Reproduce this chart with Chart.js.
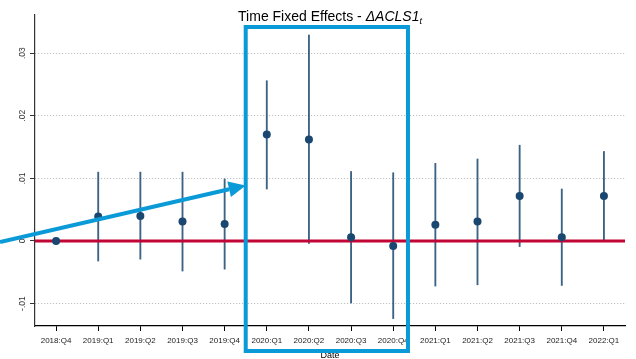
<!DOCTYPE html>
<html>
<head>
<meta charset="utf-8">
<script src="https://cdn.jsdelivr.net/npm/chart.js@4.4.1/dist/chart.umd.min.js"></script>
<style>
  html, body { margin: 0; padding: 0; background: #fff; }
  #wrap { width: 636px; height: 359px; position: relative; }
</style>
</head>
<body>
<div id="wrap"><canvas id="chart"></canvas></div>
<script>
const quarters = ['2018:Q4', '2019:Q1', '2019:Q2', '2019:Q3', '2019:Q4', '2020:Q1', '2020:Q2',
    '2020:Q3', '2020:Q4', '2021:Q1', '2021:Q2', '2021:Q3', '2021:Q4', '2022:Q1'];
const estimates = [0, 0.0039, 0.0040, 0.0031, 0.0027, 0.0170, 0.0162, 0.0006, -0.0008, 0.0026, 0.0031, 0.0072, 0.0006, 0.0072];
const ciLow = [null, -0.0032, -0.0029, -0.0048, -0.0045, 0.0083, -0.0004, -0.0099, -0.0124, -0.0072, -0.0070, -0.0009, -0.0071, 0.0000];
const ciHigh = [null, 0.0110, 0.0110, 0.0110, 0.0099, 0.0256, 0.0329, 0.0111, 0.0109, 0.0124, 0.0131, 0.0153, 0.0083, 0.0143];
const yTicks = [-0.01, 0, 0.01, 0.02, 0.03];
const yTickLabels = ['-.01', '0', '.01', '.02', '.03'];

const navy = '#1a476f';
const red = '#c10534';
const blue = '#0a9ad7';
const font = 'Arial, "Liberation Sans", sans-serif';

const overlay = {
    id: 'overlay',
    afterDatasetDraw(chart, args) {
        // zero line sits above the error bars but under the points
        if (args.index !== 1) return;
        const { ctx, chartArea, scales: { y } } = chart;
        const p = y.getPixelForValue(0);
        ctx.save();
        ctx.strokeStyle = red;
        ctx.lineWidth = 3;
        ctx.beginPath();
        ctx.moveTo(chartArea.left, p);
        ctx.lineTo(chartArea.right, p);
        ctx.stroke();
        ctx.restore();
    },
    afterDraw(chart) {
        const { ctx, chartArea, scales: { x, y } } = chart;
        ctx.save();

        // rotated y tick labels
        ctx.fillStyle = '#333';
        ctx.font = '8.5px ' + font;
        ctx.textAlign = 'center';
        ctx.textBaseline = 'middle';
        yTicks.forEach((v, i) => {
            ctx.save();
            ctx.translate(23, y.getPixelForValue(v));
            ctx.rotate(-Math.PI / 2);
            ctx.fillText(yTickLabels[i], 0, 0);
            ctx.restore();
        });

        // title with italic part and subscript
        const cx = (chartArea.left + chartArea.right) / 2;
        const parts = [
            { t: 'Time Fixed Effects - ', f: '14px ' + font, dy: 0 },
            { t: '\u0394ACLS1', f: 'italic 14px ' + font, dy: 0 },
            { t: 't', f: 'italic 9px ' + font, dy: 3 }
        ];
        let total = 0;
        parts.forEach(p => { ctx.font = p.f; p.w = ctx.measureText(p.t).width; total += p.w; });
        let tx = cx - total / 2;
        ctx.fillStyle = '#000';
        ctx.textAlign = 'left';
        ctx.textBaseline = 'alphabetic';
        parts.forEach(p => {
            ctx.font = p.f;
            ctx.fillText(p.t, tx, 21 + p.dy);
            tx += p.w;
        });

        // highlight box around 2020
        ctx.strokeStyle = blue;
        ctx.lineWidth = 4;
        const bx1 = x.getPixelForValue(4.5);
        const bx2 = x.getPixelForValue(8.35);
        ctx.strokeRect(bx1, chartArea.top + 12, bx2 - bx1, 351 - chartArea.top - 12);

        // arrow pointing at box
        const sx = 0, sy = 242, ex = bx1, ey = 185.5;
        const ang = Math.atan2(ey - sy, ex - sx);
        const hl = 17, hw = 8;
        const bxh = ex - hl * Math.cos(ang), byh = ey - hl * Math.sin(ang);
        ctx.beginPath();
        ctx.moveTo(sx, sy);
        ctx.lineTo(bxh, byh);
        ctx.stroke();
        ctx.fillStyle = blue;
        ctx.beginPath();
        ctx.moveTo(ex, ey);
        ctx.lineTo(bxh + hw * Math.sin(ang), byh - hw * Math.cos(ang));
        ctx.lineTo(bxh - hw * Math.sin(ang), byh + hw * Math.cos(ang));
        ctx.closePath();
        ctx.fill();

        ctx.restore();
    }
};

new Chart(document.getElementById('chart'), {
    data: {
        labels: quarters,
        datasets: [
            {
                type: 'line',
                data: estimates,
                showLine: false,
                pointRadius: 4,
                pointBackgroundColor: navy,
                pointBorderWidth: 0
            },
            {
                type: 'bar',
                data: quarters.map((q, i) => ciLow[i] === null ? null : [ciLow[i], ciHigh[i]]),
                backgroundColor: 'rgba(26, 71, 111, 0.85)',
                barThickness: 1.2
            }
        ]
    },
    options: {
        responsive: true,
        maintainAspectRatio: false,
        animation: false,
        layout: { padding: { top: 15, right: 11, left: 0, bottom: 0 } },
        plugins: {
            legend: { display: false },
            tooltip: { enabled: false }
        },
        scales: {
            x: {
                type: 'category',
                offset: true,
                grid: { drawOnChartArea: false, offset: false, tickLength: 5, tickColor: '#000', tickWidth: 1 },
                border: { color: '#000', width: 1.2 },
                ticks: { font: { size: 8, family: font }, color: '#222', padding: 5, maxRotation: 0, autoSkip: false },
                title: { display: true, text: 'Date', font: { size: 9, family: font }, color: '#000', padding: { top: 0, bottom: -2 } },
                afterFit: s => { s.height = 33; }
            },
            y: {
                type: 'linear',
                min: -0.01358,
                max: 0.0361,
                afterBuildTicks: s => { s.ticks = yTicks.map(v => ({ value: v })); },
                ticks: { display: false },
                grid: { color: '#b4b4b4', lineWidth: 1, tickLength: 5, tickColor: '#333', tickWidth: 1 },
                border: { color: '#333', width: 1.2, dash: [1, 2] },
                afterFit: s => { s.width = 35; }
            }
        }
    },
    plugins: [overlay]
});
</script>
</body>
</html>
